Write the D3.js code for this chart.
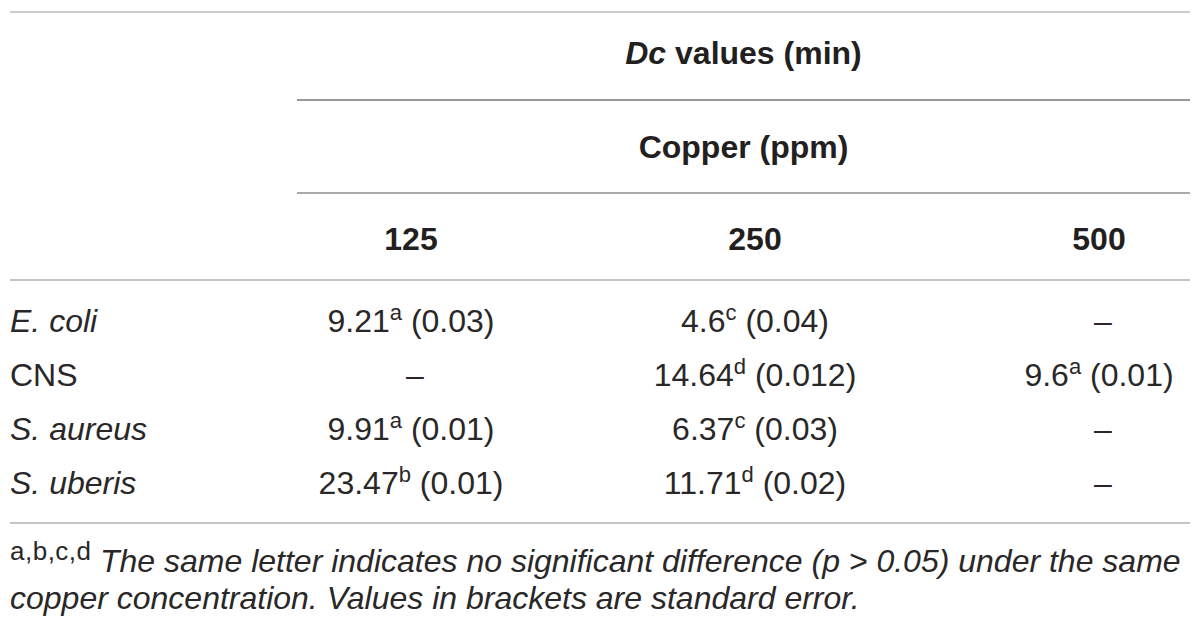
<!DOCTYPE html>
<html>
<head>
<meta charset="utf-8">
<script src="https://cdn.jsdelivr.net/npm/d3@7"></script>
<style>
  body { margin: 0; background: #fff; }
  text { font-family: "Liberation Sans", Arial, sans-serif; fill: #231f20; }
</style>
</head>
<body>
<div id="table"></div>
<script>
// Table content
const species = ["E. coli", "CNS", "S. aureus", "S. uberis"];
const italicRow = [true, false, true, true];
const copper = ["125", "250", "500"];
// values per species, per copper level (null = not determined)
const dcValues = [
    ["9.21", "4.6", null],
    [null, "14.64", "9.6"],
    ["9.91", "6.37", null],
    ["23.47", "11.71", null]
];
const letters = [
    ["a", "c", null],
    [null, "d", "a"],
    ["a", "c", null],
    ["b", "d", null]
];
const stdErr = [
    ["0.03", "0.04", null],
    [null, "0.012", "0.01"],
    ["0.01", "0.03", null],
    ["0.01", "0.02", null]
];

const width = 1200, height = 635;
const left = 10, right = 1190, groupLeft = 297;

const svg = d3.select("#table")
    .append("svg")
    .attr("width", width)
    .attr("height", height);

// Column and row positions
const x = d3.scalePoint()
    .domain(copper)
    .range([411, 1099]);

const y = d3.scaleBand()
    .domain(species)
    .range([295, 511]);

// Rules
const rules = [
    { y: 12, x1: left, color: "#cccccc" },
    { y: 100, x1: groupLeft, color: "#999999" },
    { y: 193, x1: groupLeft, color: "#aaaaaa" },
    { y: 280, x1: left, color: "#c4c4c4" },
    { y: 523, x1: left, color: "#c4c4c4" }
];
svg.selectAll(".rule")
    .data(rules)
    .enter()
    .append("line")
    .attr("class", "rule")
    .attr("x1", d => d.x1)
    .attr("x2", right)
    .attr("y1", d => d.y)
    .attr("y2", d => d.y)
    .attr("stroke", d => d.color)
    .attr("stroke-width", 2);

// Spanning headers
const mid = (groupLeft + right) / 2;
const h1 = svg.append("text")
    .attr("x", mid)
    .attr("y", 64)
    .attr("text-anchor", "middle")
    .style("font-size", "32px")
    .style("font-weight", "bold");
h1.append("tspan").style("font-style", "italic").text("Dc");
h1.append("tspan").text(" values (min)");

svg.append("text")
    .attr("x", mid)
    .attr("y", 158)
    .attr("text-anchor", "middle")
    .style("font-size", "32px")
    .style("font-weight", "bold")
    .text("Copper (ppm)");

// Column headers
svg.selectAll(".colhead")
    .data(copper)
    .enter()
    .append("text")
    .attr("class", "colhead")
    .attr("x", d => x(d))
    .attr("y", 250)
    .attr("text-anchor", "middle")
    .style("font-size", "32px")
    .style("font-weight", "bold")
    .text(d => d);

// Row labels
svg.selectAll(".rowlabel")
    .data(species)
    .enter()
    .append("text")
    .attr("class", "rowlabel")
    .attr("x", left)
    .attr("y", d => y(d) + y.bandwidth() / 2 + 10)
    .style("font-size", "32px")
    .style("font-style", (d, i) => italicRow[i] ? "italic" : "normal")
    .style("fill", "#2a2728")
    .text(d => d);

// Cells
const cells = [];
species.forEach((s, i) => {
    copper.forEach((c, j) => {
        cells.push({ row: s, col: c, v: dcValues[i][j], l: letters[i][j], se: stdErr[i][j] });
    });
});

const cell = svg.selectAll(".cell")
    .data(cells)
    .enter()
    .append("text")
    .attr("class", "cell")
    .attr("x", d => x(d.col))
    .attr("y", d => y(d.row) + y.bandwidth() / 2 + 10)
    .attr("text-anchor", "middle")
    .style("font-size", "32px")
    .style("fill", "#2a2728");

cell.each(function(d) {
    const t = d3.select(this);
    if (d.v === null) {
        t.attr("dx", 4).text("\u2013");
        return;
    }
    t.append("tspan").text(d.v);
    t.append("tspan").attr("dy", -12).style("font-size", "22px").text(d.l);
    t.append("tspan").attr("dy", 12).text(" (" + d.se + ")");
});

// Footnote
const fn = svg.append("text")
    .attr("x", left)
    .attr("y", 572)
    .style("font-size", "32px")
    .style("fill", "#2a2728");
fn.append("tspan").attr("dy", -12).style("font-size", "26px").style("letter-spacing", "0.5px").text("a,b,c,d");
fn.append("tspan").attr("x", 100).attr("dy", 12).style("font-style", "italic")
    .text("The same letter indicates no significant difference (p > 0.05) under the same");
svg.append("text")
    .attr("x", left)
    .attr("y", 609)
    .style("font-size", "32px")
    .style("font-style", "italic")
    .style("fill", "#2a2728")
    .text("copper concentration. Values in brackets are standard error.");
</script>
</body>
</html>
